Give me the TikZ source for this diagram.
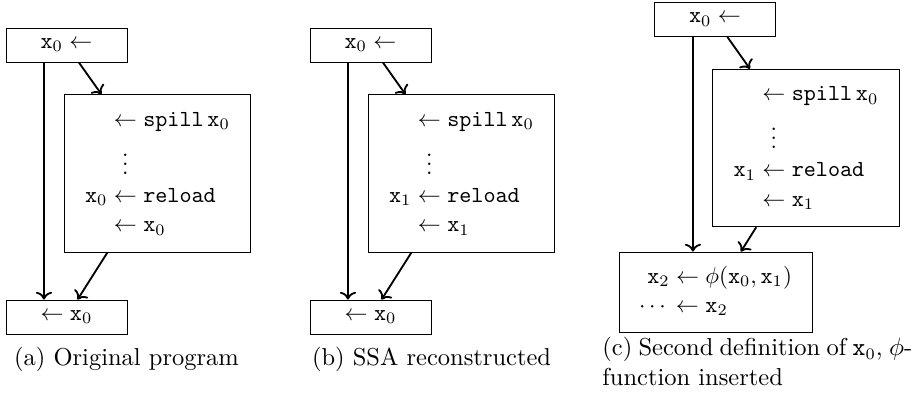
\documentclass[tikz,border=0pt]{standalone}
\usepackage{amsmath,amssymb}
\usepackage{tikz}
\usetikzlibrary{arrows.meta,positioning,calc}
\newcommand{\var}[1]{\mathtt{x}_{#1}}
\newcommand{\kw}[1]{\mathtt{#1}}
\newcommand{\spillbody}[1]{$\begin{array}{@{}r@{}c@{}l@{}}
  & {}\leftarrow{} & \kw{spill}\,\var{0}\\[2.4pt]
  & \vdots & \\
  \var{#1} & {}\leftarrow{} & \kw{reload}\\[1pt]
  & {}\leftarrow{} & \var{#1}
\end{array}$}

\begin{document}
\begin{tikzpicture}[x=0.435pt, y=-0.435pt, >={To},
  blk/.style={draw, inner sep=0pt, minimum width=52.6pt, minimum height=14.8pt},
  body/.style={draw, inner sep=0pt, minimum width=81.3pt, minimum height=68.5pt},
  merge/.style={draw, inner sep=0pt, minimum width=84pt, minimum height=34.8pt},
  flow/.style={->, thick},
  subcap/.style={inner sep=0pt, font=\fontsize{10.65}{12.75}\selectfont}]
  \useasboundingbox (0,0) rectangle (923,404);
  % (a) original program
  \node[blk] (defa) at (66.5,45) {$\var{0} \leftarrow$};
  \node[body] (spla) at (157.5,173.5) {\spillbody{0}};
  \node[blk] (usea) at (66.5,317) {$\leftarrow \var{0}$};
  \draw[flow] ([xshift=-9.8pt]defa.south) -- ([xshift=-9.8pt]usea.north);
  \draw[flow] (defa) -- (spla);
  \draw[flow] (spla) -- (usea);
  \node[subcap, anchor=base] (capa) at (126.5,365) {(a) Original program};
  % (b) SSA reconstructed
  \node[blk] (defb) at (370.5,45) {$\var{0} \leftarrow$};
  \node[body] (splb) at (461.5,173.5) {\spillbody{1}};
  \node[blk] (useb) at (370.5,317) {$\leftarrow \var{0}$};
  \draw[flow] ([xshift=-9.8pt]defb.south) -- ([xshift=-9.8pt]useb.north);
  \draw[flow] (defb) -- (splb);
  \draw[flow] (splb) -- (useb);
  \node[subcap, anchor=base] (capb) at (431.5,365) {(b) SSA reconstructed};
  % (c) phi-function
  \node[blk] (defc) at (715,19.5) {$\var{0} \leftarrow$};
  \node[body] (splc) at (806,148) {\spillbody{1}};
  \node[merge] (phic) at (715.5,292) {$\begin{array}{@{}r@{}c@{}l@{}}
    \var{2} & {}\leftarrow{} & \phi(\var{0},\var{1})\\[0.6pt]
    \cdots & {}\leftarrow{} & \var{2}
  \end{array}$};
  \draw[flow] ([xshift=-9.6pt]defc.south) -- ([xshift=-9.6pt]defc.south |- phic.north);
  \draw[flow] (defc) -- (splc);
  \draw[flow] (splc) -- (phic);
  \node[subcap, anchor=north west, align=left] (capc) at (602,337)
    {\spaceskip=2.7pt (c) Second definition of $\var{0}$, $\phi$-\\function inserted};
\end{tikzpicture}
\end{document}
